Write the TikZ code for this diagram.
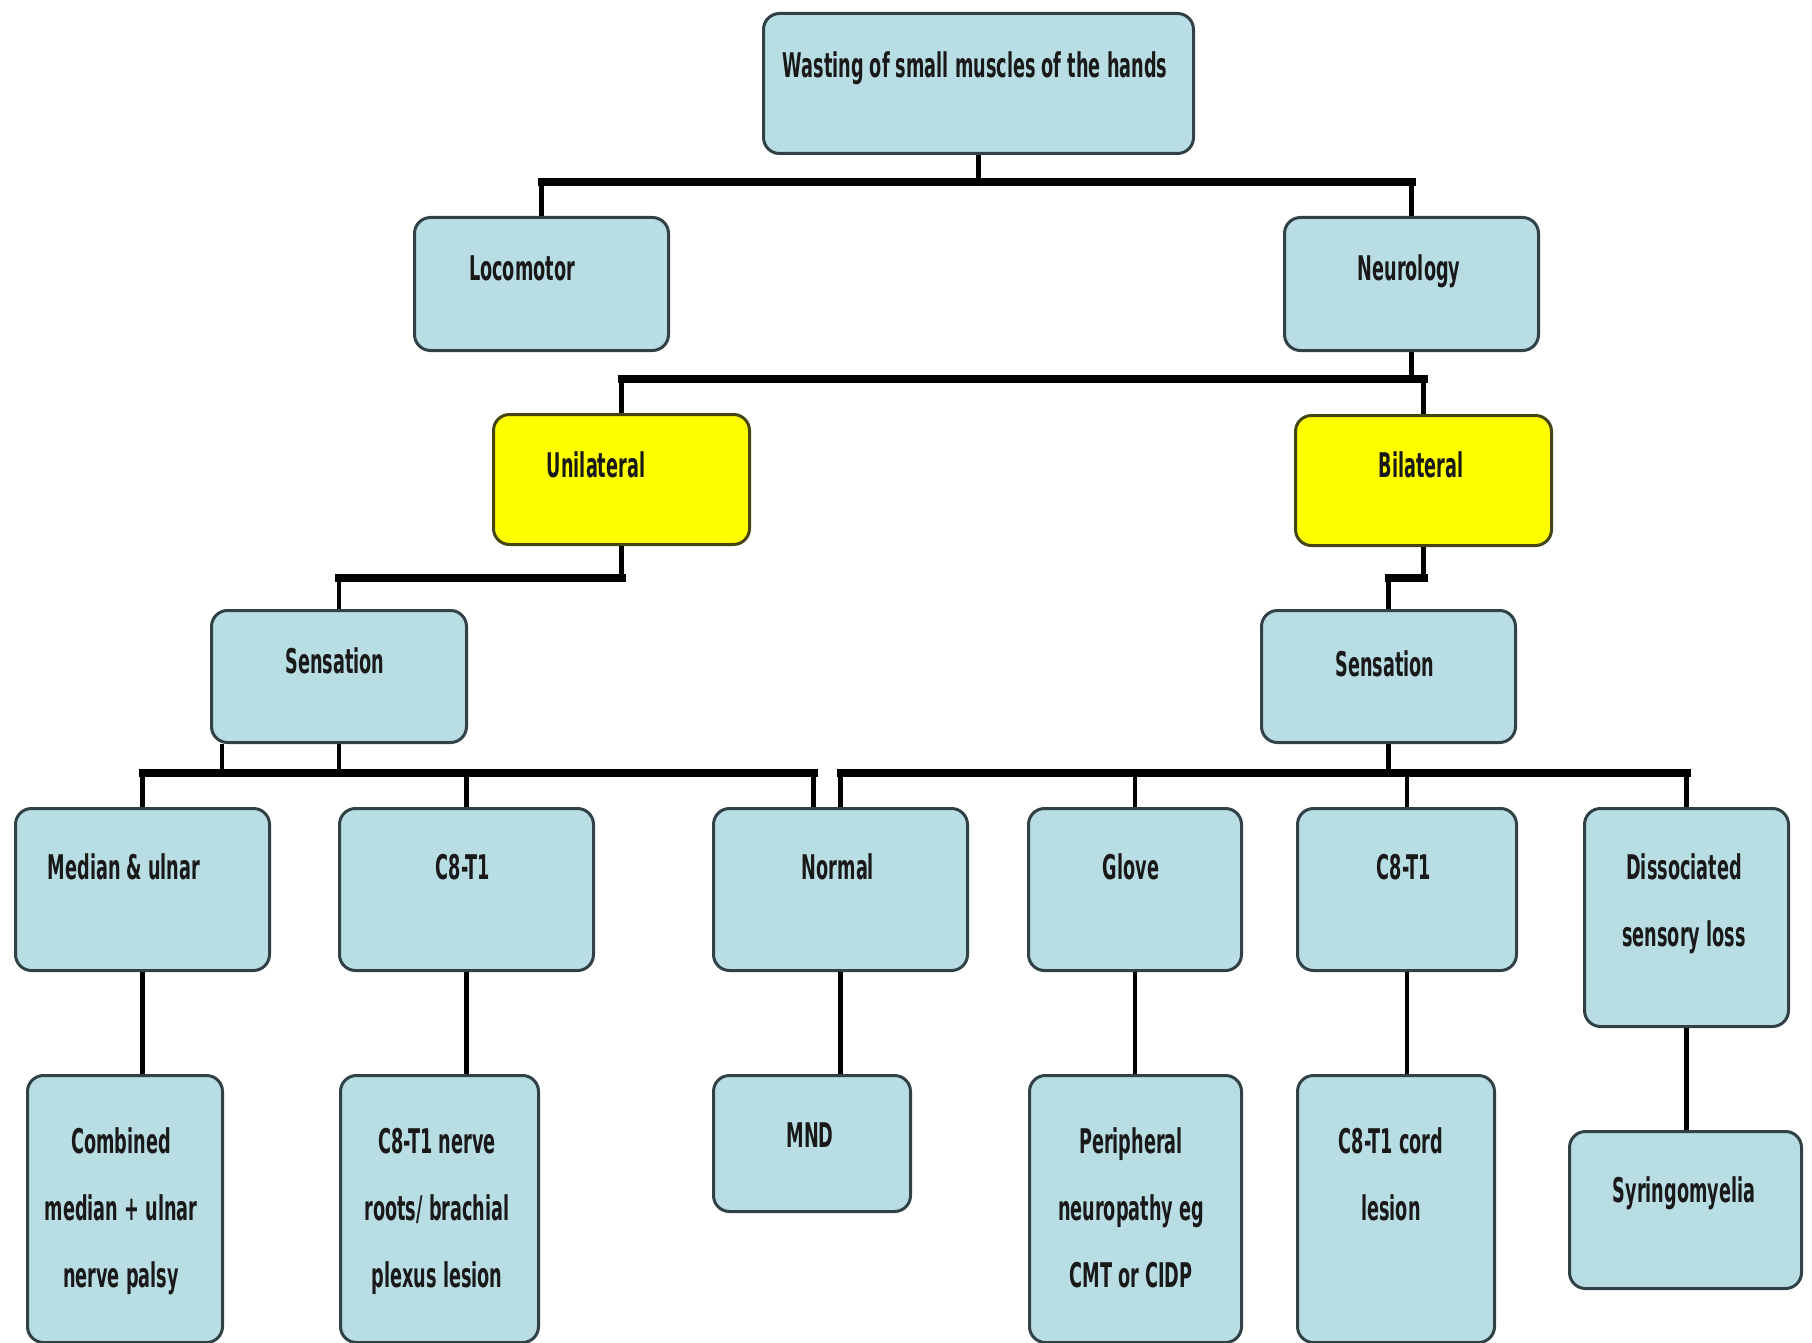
\documentclass[tikz,border=0pt]{standalone}
\usepackage{fontspec}
\setmainfont{DejaVu Sans}[FakeStretch=0.52]
\definecolor{boxblue}{RGB}{184,221,227}
\definecolor{boxedge}{RGB}{48,66,70}
\definecolor{boxyellow}{RGB}{255,255,0}
\definecolor{yedge}{RGB}{70,70,20}
\begin{document}
\begin{tikzpicture}[x=1pt,y=-1pt,
  box/.style={draw=boxedge, line width=3pt, fill=boxblue, rounded corners=16pt, inner sep=0pt, anchor=north west},
  ybox/.style={box, fill=boxyellow, draw=yedge},
  txt/.style={font=\fontsize{34}{67}\selectfont\bfseries, align=center, anchor=base, inner sep=0pt, text=black!90},
  conn/.style={line width=4.5pt, black},
  bus/.style={line width=8pt, black, line cap=rect}]
\fill[white] (0,0) rectangle (1812,1343);
\useasboundingbox (0,0) rectangle (1812,1343);

% boxes (left, top, width, height)
\node[box, minimum width=430pt, minimum height=140pt] (top) at (762,12) {};
\node[box, minimum width=254pt, minimum height=133pt] (loco) at (413,216) {};
\node[box, minimum width=254pt, minimum height=133pt] (neuro) at (1283,216) {};
\node[ybox, minimum width=256pt, minimum height=130pt] (uni) at (492,413) {};
\node[ybox, minimum width=256pt, minimum height=130pt] (bi) at (1294,414) {};
\node[box, minimum width=255pt, minimum height=132pt] (sensL) at (210,609) {};
\node[box, minimum width=254pt, minimum height=132pt] (sensR) at (1260,609) {};
\node[box, minimum width=254pt, minimum height=162pt] (med) at (14,807) {};
\node[box, minimum width=254pt, minimum height=162pt] (c8l) at (338,807) {};
\node[box, minimum width=254pt, minimum height=162pt] (normal) at (712,807) {};
\node[box, minimum width=213pt, minimum height=162pt] (glove) at (1027,807) {};
\node[box, minimum width=219pt, minimum height=162pt] (c8r) at (1296,807) {};
\node[box, minimum width=204pt, minimum height=218pt] (diss) at (1583,807) {};
\node[box, minimum width=195pt, minimum height=267pt] (comb) at (26,1074) {};
\node[box, minimum width=198pt, minimum height=267pt] (c8n) at (339,1074) {};
\node[box, minimum width=197pt, minimum height=136pt] (mnd) at (712,1074) {};
\node[box, minimum width=212pt, minimum height=267pt] (periph) at (1028,1074) {};
\node[box, minimum width=197pt, minimum height=267pt] (cord) at (1296,1074) {};
\node[box, minimum width=232pt, minimum height=157pt] (syr) at (1568,1130) {};

% texts (anchor = baseline of the last line)
\node[txt] (topt) at (975,78) {Wasting of small muscles of the hands};
\node[txt] (locot) at (522,280) {Locomotor};
\node[txt] (neurot) at (1409,280) {Neurology};
\node[txt] (unit) at (596,477) {Unilateral};
\node[txt] (bit) at (1421,477) {Bilateral};
\node[txt] (sensLt) at (335,673) {Sensation};
\node[txt] (sensRt) at (1385,676) {Sensation};
\node[txt] (medt) at (124,879) {Median \& ulnar};
\node[txt] (c8lt) at (463,879) {C8-T1};
\node[txt] (normalt) at (838,879) {Normal};
\node[txt] (glovet) at (1131,879) {Glove};
\node[txt] (c8rt) at (1404,879) {C8-T1};
\node[txt] (disst) at (1684,946) {Dissociated\\sensory loss};
\node[txt] (combt) at (121,1287) {Combined\\median + ulnar\\nerve palsy};
\node[txt] (c8nt) at (437,1287) {C8-T1 nerve\\roots/ brachial\\plexus lesion};
\node[txt] (mndt) at (810,1147) {MND};
\node[txt] (periphT) at (1131,1287) {Peripheral\\neuropathy eg\\CMT or CIDP};
\node[txt] (cordt) at (1391,1220) {C8-T1 cord\\lesion};
\node[txt] (syrt) at (1684,1202) {Syringomyelia};

% bus levels
\coordinate (b1) at (0,182);
\coordinate (b2) at (0,379);
\coordinate (b3) at (0,578);
\coordinate (b4) at (0,773);

% level 1
\draw[conn] (top.south) -- (top.south |- b1);
\draw[bus] (loco.north |- b1) -- (neuro.north |- b1);
\draw[conn] (loco.north |- b1) -- (loco.north);
\draw[conn] (neuro.north |- b1) -- (neuro.north);

% level 2
\draw[conn] (neuro.south) -- (neuro.south |- b2);
\draw[bus] (uni.north |- b2) -- (bi.north |- b2);
\draw[conn] (uni.north |- b2) -- (uni.north);
\draw[conn] (bi.north |- b2) -- (bi.north);

% level 3
\draw[conn] (uni.south) -- (uni.south |- b3);
\draw[bus] (uni.south |- b3) -- (sensL.north |- b3);
\draw[conn] (sensL.north |- b3) -- (sensL.north);
\draw[conn] (bi.south) -- (bi.south |- b3);
\draw[bus] (bi.south |- b3) -- (sensR.north |- b3);
\draw[conn] (sensR.north |- b3) -- (sensR.north);

% level 4
\draw[conn] ([xshift=12pt]sensL.south west) -- ([xshift=12pt]sensL.south west |- b4);
\draw[conn] (sensL.south) -- (sensL.south |- b4);
\draw[conn] (sensR.south) -- (sensR.south |- b4);
\draw[bus] (med.north |- b4) -- ([xshift=-27pt]normal.north |- b4);
\draw[bus] (normal.north |- b4) -- (diss.north |- b4);
\draw[conn] (med.north |- b4) -- (med.north);
\draw[conn] (c8l.north |- b4) -- (c8l.north);
\draw[conn] ([xshift=-27pt]normal.north |- b4) -- ([xshift=-27pt]normal.north);
\draw[conn] (normal.north |- b4) -- (normal.north);
\draw[conn] (glove.north |- b4) -- (glove.north);
\draw[conn] (c8r.north |- b4) -- (c8r.north);
\draw[conn] (diss.north |- b4) -- (diss.north);

% level 5
\draw[conn] (med.south) -- (med.south |- comb.north);
\draw[conn] (c8l.south) -- (c8l.south |- c8n.north);
\draw[conn] (normal.south) -- (normal.south |- mnd.north);
\draw[conn] (glove.south) -- (glove.south |- periph.north);
\draw[conn] (c8r.south) -- (c8r.south |- cord.north);
\draw[conn] (diss.south) -- (diss.south |- syr.north);
\end{tikzpicture}
\end{document}
